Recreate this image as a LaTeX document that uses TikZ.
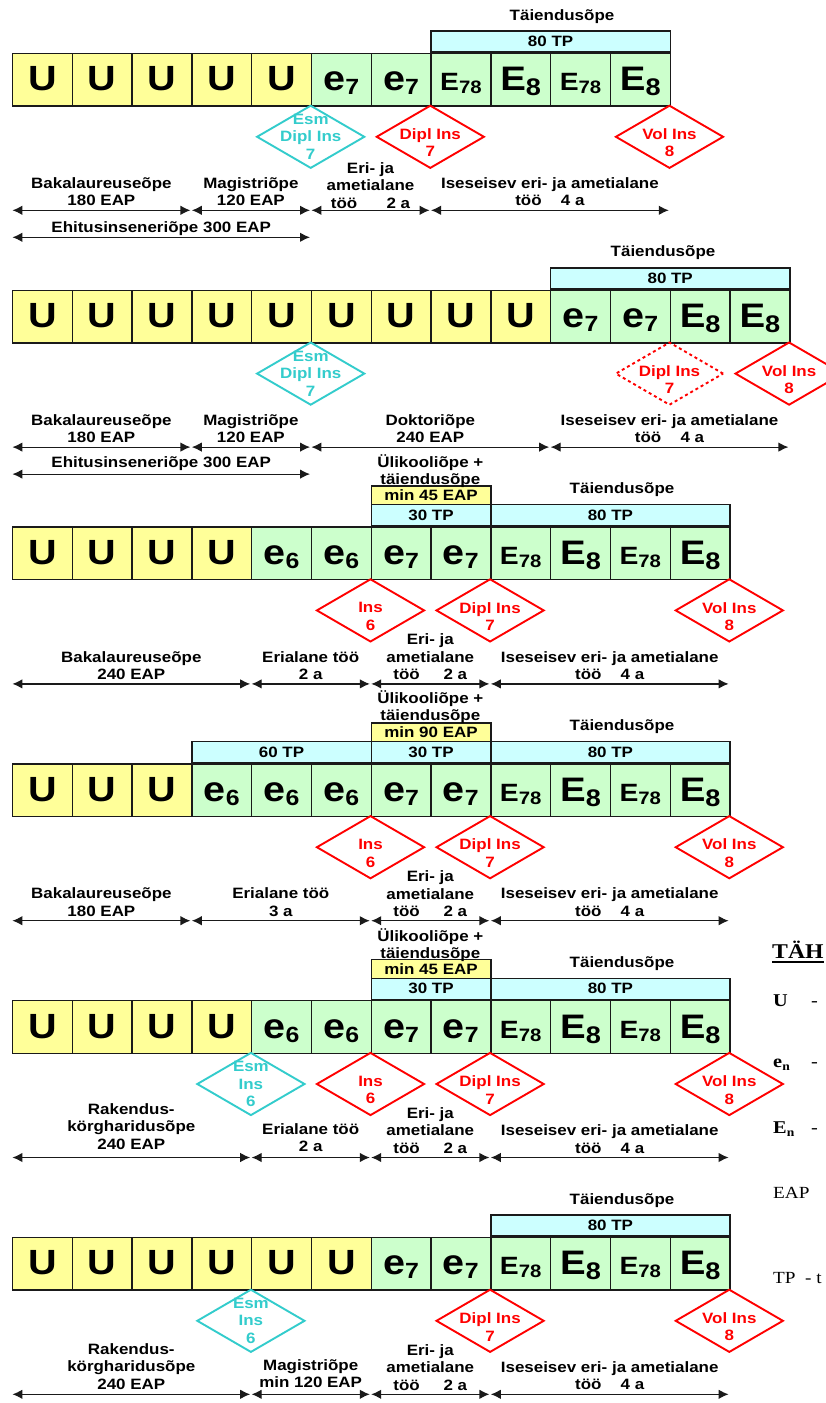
\documentclass[tikz,border=0pt]{standalone}
\usepackage{fontspec}
\setmainfont{Liberation Sans}
\newfontfamily\tnr{Liberation Serif}
\usepackage{graphicx}
\usetikzlibrary{arrows.meta,shapes.geometric}

\definecolor{uy}{HTML}{FFFF99}
\definecolor{eg}{HTML}{CCFFCC}
\definecolor{tc}{HTML}{CCFFFF}
\definecolor{rd}{HTML}{FF0000}
\definecolor{cy}{HTML}{33CCCC}
\definecolor{ln}{HTML}{1A1A1A}

\newcommand\sx[1]{\scalebox{1.13}[1]{#1}}
\newcommand\cU{\sx{\fontsize{35}{35}\selectfont U}}
\newcommand\ce[1]{\sx{\fontsize{35}{35}\selectfont e\raisebox{-4pt}{\fontsize{22}{22}\selectfont #1}}}
\newcommand\cEs{\sx{\fontsize{25}{25}\selectfont E\raisebox{-3pt}{\fontsize{18}{18}\selectfont 78}}}
\newcommand\cEb{\sx{\fontsize{34}{34}\selectfont E\raisebox{-5pt}{\fontsize{24}{24}\selectfont 8}}}
\newcommand\thul[1]{\setbox0\hbox{#1}\rlap{\rule[-3.5pt]{\wd0}{2pt}}\box0}

\newcommand\cellrow[3]{%
  \foreach \f/\c [count=\i from 0] in {#3}{%
    \node[cellbox, fill=\f] (#1c\i) at ({11.7+59.8*\i},#2) {\c};}}

\tikzset{
  cellbox/.style={draw=ln, line width=1.4pt, minimum width=59.8pt, minimum height=52.6pt,
    inner sep=0pt, anchor=north west, text height=30pt, text depth=7.6pt,
    font=\bfseries},
  hdr/.style={draw=ln, line width=1.4pt, fill=tc, minimum height=21pt, inner sep=0pt,
    anchor=south west, font=\bfseries\fontsize{15}{15}\selectfont},
  ybox/.style={draw=ln, line width=1.4pt, fill=uy, minimum height=18.5pt, inner sep=0pt,
    anchor=south west, font=\bfseries\fontsize{15}{15}\selectfont},
  lbl/.style={align=center, inner sep=0pt, xscale=1.13,
    font=\bfseries\fontsize{15}{17.5}\selectfont},
  dia/.style={diamond, minimum width=108pt, minimum height=63pt, inner sep=0pt,
    line width=1.9pt},
  rdia/.style={dia, draw=rd},
  cdia/.style={dia, draw=cy},
  rtx/.style={lbl, text=rd},
  ctx/.style={lbl, text=cy},
  dim/.style={{Latex[length=10pt,width=9.5pt]}-{Latex[length=10pt,width=9.5pt]},
    line width=1.2pt, draw=ln, shorten <=0.7pt, shorten >=0.7pt},
  leg/.style={anchor=west, inner sep=0pt, xscale=1.13, font=\tnr\fontsize{18}{18}\selectfont},
}

\begin{document}
\begin{tikzpicture}[x=1pt,y=-1pt]
\useasboundingbox[fill=white] (0,0) rectangle (825,1403);

% ================= ROW 1 =================
\cellrow{r1}{52.7}{uy/\cU,uy/\cU,uy/\cU,uy/\cU,uy/\cU,eg/\ce{7},eg/\ce{7},eg/\cEs,eg/\cEb,eg/\cEs,eg/\cEb}
\node[hdr, minimum width=239.2pt] (r1h) at (430.3,52.7) {\sx{80 TP}};
\node[lbl] (r1t) at (562,16.2) {Täiendusõpe};
\node[cdia] (r1d1) at (310.7,136.8) {};
\node[ctx] (r1d1t) at (310.7,136.8) {Esm\\Dipl Ins\\7};
\node[rdia] (r1d2) at (430.3,136.8) {};
\node[rtx] (r1d2t) at (430.3,142.8) {Dipl Ins\\7};
\node[rdia] (r1d3) at (669.5,136.8) {};
\node[rtx] (r1d3t) at (669.5,142.8) {Vol Ins\\8};
\node[lbl] (r1l1) at (101.4,191.8) {Bakalaureuseõpe\\180 EAP};
\node[lbl] (r1l2) at (250.9,191.8) {Magistriõpe\\120 EAP};
\node[lbl] (r1l3) at (370.5,185.3) {Eri- ja\\ametialane\\töö\hspace{26pt}2 a};
\node[lbl] (r1l4) at (549.9,191.8) {Iseseisev eri- ja ametialane\\töö\hspace{17pt}4 a};
\node[lbl] (r1l5) at (161.2,228.3) {Ehitusinseneriõpe 300 EAP};
\coordinate (r1p0) at (11.7,210.3);
\coordinate (r1p3) at (191.1,210.3);
\coordinate (r1p5) at (310.7,210.3);
\coordinate (r1p7) at (430.3,210.3);
\coordinate (r1p11) at (669.5,210.3);
\coordinate (r1q0) at (11.7,237.3);
\coordinate (r1q5) at (310.7,237.3);
\draw[dim] (r1p0) -- (r1p3);
\draw[dim] (r1p3) -- (r1p5);
\draw[dim] (r1p5) -- (r1p7);
\draw[dim] (r1p7) -- (r1p11);
\draw[dim] (r1q0) -- (r1q5);

% ================= ROW 2 =================
\cellrow{r2}{289.5}{uy/\cU,uy/\cU,uy/\cU,uy/\cU,uy/\cU,uy/\cU,uy/\cU,uy/\cU,uy/\cU,eg/\ce{7},eg/\ce{7},eg/\cEb,eg/\cEb}
\node[hdr, minimum width=239.2pt] (r2h) at (549.9,289.5) {\sx{80 TP}};
\node[lbl] (r2t) at (663,253) {Täiendusõpe};
\node[cdia] (r2d1) at (310.7,373.6) {};
\node[ctx] (r2d1t) at (310.7,373.6) {Esm\\Dipl Ins\\7};
\node[rdia, dashed] (r2d2) at (669.5,373.6) {};
\node[rtx] (r2d2t) at (669.5,379.6) {Dipl Ins\\7};
\node[rdia] (r2d3) at (789.1,373.6) {};
\node[rtx] (r2d3t) at (789.1,379.6) {Vol Ins\\8};
\node[lbl] (r2l1) at (101.4,428.6) {Bakalaureuseõpe\\180 EAP};
\node[lbl] (r2l2) at (250.9,428.6) {Magistriõpe\\120 EAP};
\node[lbl] (r2l3) at (430.3,428.6) {Doktoriõpe\\240 EAP};
\node[lbl] (r2l4) at (669.5,428.6) {Iseseisev eri- ja ametialane\\töö\hspace{17pt}4 a};
\node[lbl] (r2l5) at (161.2,463.5) {Ehitusinseneriõpe 300 EAP};
\coordinate (r2p0) at (11.7,447.1);
\coordinate (r2p3) at (191.1,447.1);
\coordinate (r2p5) at (310.7,447.1);
\coordinate (r2p9) at (549.9,447.1);
\coordinate (r2p13) at (789.1,447.1);
\coordinate (r2q0) at (11.7,474.1);
\coordinate (r2q5) at (310.7,474.1);
\draw[dim] (r2p0) -- (r2p3);
\draw[dim] (r2p3) -- (r2p5);
\draw[dim] (r2p5) -- (r2p9);
\draw[dim] (r2p9) -- (r2p13);
\draw[dim] (r2q0) -- (r2q5);

% ================= ROW 3 =================
\cellrow{r3}{526.3}{uy/\cU,uy/\cU,uy/\cU,uy/\cU,eg/\ce{6},eg/\ce{6},eg/\ce{7},eg/\ce{7},eg/\cEs,eg/\cEb,eg/\cEs,eg/\cEb}
\node[hdr, minimum width=119.6pt] (r3h1) at (370.5,526.3) {\sx{30 TP}};
\node[hdr, minimum width=239.2pt] (r3h2) at (490.1,526.3) {\sx{80 TP}};
\node[ybox, minimum width=119.6pt] (r3y) at (370.5,505.3) {\sx{min 45 EAP}};
\node[lbl] (r3u) at (430.3,471.3) {Ülikooliõpe +\\täiendusõpe};
\node[lbl] (r3t) at (622,490) {Täiendusõpe};
\node[rdia] (r3d1) at (370.5,610.4) {};
\node[rtx] (r3d1t) at (370.5,616.4) {Ins\\6};
\node[rdia] (r3d2) at (490.1,610.4) {};
\node[rtx] (r3d2t) at (490.1,616.4) {Dipl Ins\\7};
\node[rdia] (r3d3) at (729.3,610.4) {};
\node[rtx] (r3d3t) at (729.3,616.4) {Vol Ins\\8};
\node[lbl] (r3l1) at (131.3,665.4) {Bakalaureuseõpe\\240 EAP};
\node[lbl] (r3l2) at (310.7,665.4) {Erialane töö\\2 a};
\node[lbl] (r3l3) at (430.3,656.9) {Eri- ja\\ametialane\\töö\hspace{21pt}2 a};
\node[lbl] (r3l4) at (609.7,665.4) {Iseseisev eri- ja ametialane\\töö\hspace{17pt}4 a};
\coordinate (r3p0) at (11.7,683.9);
\coordinate (r3p4) at (250.9,683.9);
\coordinate (r3p6) at (370.5,683.9);
\coordinate (r3p8) at (490.1,683.9);
\coordinate (r3p12) at (729.3,683.9);
\draw[dim] (r3p0) -- (r3p4);
\draw[dim] (r3p4) -- (r3p6);
\draw[dim] (r3p6) -- (r3p8);
\draw[dim] (r3p8) -- (r3p12);

% ================= ROW 4 =================
\cellrow{r4}{763.1}{uy/\cU,uy/\cU,uy/\cU,eg/\ce{6},eg/\ce{6},eg/\ce{6},eg/\ce{7},eg/\ce{7},eg/\cEs,eg/\cEb,eg/\cEs,eg/\cEb}
\node[hdr, minimum width=179.4pt] (r4h0) at (191.1,763.1) {\sx{60 TP}};
\node[hdr, minimum width=119.6pt] (r4h1) at (370.5,763.1) {\sx{30 TP}};
\node[hdr, minimum width=239.2pt] (r4h2) at (490.1,763.1) {\sx{80 TP}};
\node[ybox, minimum width=119.6pt] (r4y) at (370.5,742.1) {\sx{min 90 EAP}};
\node[lbl] (r4u) at (430.3,707) {Ülikooliõpe +\\täiendusõpe};
\node[lbl] (r4t) at (622,727) {Täiendusõpe};
\node[rdia] (r4d1) at (370.5,847.2) {};
\node[rtx] (r4d1t) at (370.5,853.2) {Ins\\6};
\node[rdia] (r4d2) at (490.1,847.2) {};
\node[rtx] (r4d2t) at (490.1,853.2) {Dipl Ins\\7};
\node[rdia] (r4d3) at (729.3,847.2) {};
\node[rtx] (r4d3t) at (729.3,853.2) {Vol Ins\\8};
\node[lbl] (r4l1) at (101.4,902.2) {Bakalaureuseõpe\\180 EAP};
\node[lbl] (r4l2) at (280.8,902.2) {Erialane töö\\3 a};
\node[lbl] (r4l3) at (430.3,893.7) {Eri- ja\\ametialane\\töö\hspace{21pt}2 a};
\node[lbl] (r4l4) at (609.7,902.2) {Iseseisev eri- ja ametialane\\töö\hspace{17pt}4 a};
\coordinate (r4p0) at (11.7,920.7);
\coordinate (r4p3) at (191.1,920.7);
\coordinate (r4p6) at (370.5,920.7);
\coordinate (r4p8) at (490.1,920.7);
\coordinate (r4p12) at (729.3,920.7);
\draw[dim] (r4p0) -- (r4p3);
\draw[dim] (r4p3) -- (r4p6);
\draw[dim] (r4p6) -- (r4p8);
\draw[dim] (r4p8) -- (r4p12);

% ================= ROW 5 =================
\cellrow{r5}{999.9}{uy/\cU,uy/\cU,uy/\cU,uy/\cU,eg/\ce{6},eg/\ce{6},eg/\ce{7},eg/\ce{7},eg/\cEs,eg/\cEb,eg/\cEs,eg/\cEb}
\node[hdr, minimum width=119.6pt] (r5h1) at (370.5,999.9) {\sx{30 TP}};
\node[hdr, minimum width=239.2pt] (r5h2) at (490.1,999.9) {\sx{80 TP}};
\node[ybox, minimum width=119.6pt] (r5y) at (370.5,978.9) {\sx{min 45 EAP}};
\node[lbl] (r5u) at (430.3,944.9) {Ülikooliõpe +\\täiendusõpe};
\node[lbl] (r5t) at (622,963.6) {Täiendusõpe};
\node[cdia] (r5d0) at (250.9,1084) {};
\node[ctx] (r5d0t) at (250.9,1084) {Esm\\Ins\\6};
\node[rdia] (r5d1) at (370.5,1084) {};
\node[rtx] (r5d1t) at (370.5,1090) {Ins\\6};
\node[rdia] (r5d2) at (490.1,1084) {};
\node[rtx] (r5d2t) at (490.1,1090) {Dipl Ins\\7};
\node[rdia] (r5d3) at (729.3,1084) {};
\node[rtx] (r5d3t) at (729.3,1090) {Vol Ins\\8};
\node[lbl] (r5l1) at (131.3,1126.5) {Rakendus-\\körgharidusõpe\\240 EAP};
\node[lbl] (r5l2) at (310.7,1137.5) {Erialane töö\\2 a};
\node[lbl] (r5l3) at (430.3,1130.5) {Eri- ja\\ametialane\\töö\hspace{21pt}2 a};
\node[lbl] (r5l4) at (609.7,1139) {Iseseisev eri- ja ametialane\\töö\hspace{17pt}4 a};
\coordinate (r5p0) at (11.7,1157.5);
\coordinate (r5p4) at (250.9,1157.5);
\coordinate (r5p6) at (370.5,1157.5);
\coordinate (r5p8) at (490.1,1157.5);
\coordinate (r5p12) at (729.3,1157.5);
\draw[dim] (r5p0) -- (r5p4);
\draw[dim] (r5p4) -- (r5p6);
\draw[dim] (r5p6) -- (r5p8);
\draw[dim] (r5p8) -- (r5p12);

% ================= ROW 6 =================
\cellrow{r6}{1236.7}{uy/\cU,uy/\cU,uy/\cU,uy/\cU,uy/\cU,uy/\cU,eg/\ce{7},eg/\ce{7},eg/\cEs,eg/\cEb,eg/\cEs,eg/\cEb}
\node[hdr, minimum width=239.2pt] (r6h) at (490.1,1236.7) {\sx{80 TP}};
\node[lbl] (r6t) at (622,1200.2) {Täiendusõpe};
\node[cdia] (r6d0) at (250.9,1320.8) {};
\node[ctx] (r6d0t) at (250.9,1320.8) {Esm\\Ins\\6};
\node[rdia] (r6d2) at (490.1,1320.8) {};
\node[rtx] (r6d2t) at (490.1,1326.8) {Dipl Ins\\7};
\node[rdia] (r6d3) at (729.3,1320.8) {};
\node[rtx] (r6d3t) at (729.3,1326.8) {Vol Ins\\8};
\node[lbl] (r6l1) at (131.3,1366.3) {Rakendus-\\körgharidusõpe\\240 EAP};
\node[lbl] (r6l2) at (310.7,1373.8) {Magistriõpe\\min 120 EAP};
\node[lbl] (r6l3) at (430.3,1367.3) {Eri- ja\\ametialane\\töö\hspace{21pt}2 a};
\node[lbl] (r6l4) at (609.7,1375.8) {Iseseisev eri- ja ametialane\\töö\hspace{17pt}4 a};
\coordinate (r6p0) at (11.7,1394.3);
\coordinate (r6p4) at (250.9,1394.3);
\coordinate (r6p6) at (370.5,1394.3);
\coordinate (r6p8) at (490.1,1394.3);
\coordinate (r6p12) at (729.3,1394.3);
\draw[dim] (r6p0) -- (r6p4);
\draw[dim] (r6p4) -- (r6p6);
\draw[dim] (r6p6) -- (r6p8);
\draw[dim] (r6p8) -- (r6p12);

% ================= LEGEND =================
\node[leg, font=\tnr\bfseries\fontsize{21}{21}\selectfont] (lg0) at (772,952) {\thul{TÄH}};
\node[leg, font=\tnr\bfseries\fontsize{18}{18}\selectfont] (lg1) at (773,1001) {\makebox[33.6pt][l]{U}\mdseries-};
\node[leg, font=\tnr\bfseries\fontsize{18}{18}\selectfont] (lg2) at (773,1065) {\makebox[33.6pt][l]{e\raisebox{-3pt}{\fontsize{12}{12}\selectfont n}}\mdseries-};
\node[leg, font=\tnr\bfseries\fontsize{18}{18}\selectfont] (lg3) at (773,1129) {\makebox[33.6pt][l]{E\raisebox{-3pt}{\fontsize{12}{12}\selectfont n}}\mdseries-};
\node[leg, font=\tnr\fontsize{17}{17}\selectfont] (lg4) at (773,1193) {EAP};
\node[leg, font=\tnr\fontsize{17}{17}\selectfont] (lg5) at (773,1278) {\makebox[28.3pt][l]{TP}- t};
\end{tikzpicture}
\end{document}
